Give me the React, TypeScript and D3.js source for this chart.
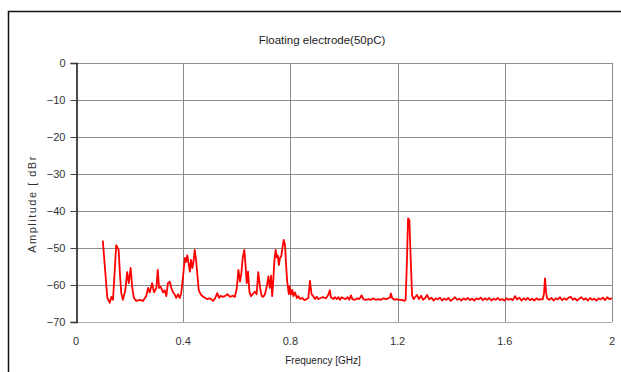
import React, { useEffect, useRef } from 'react';
import * as d3 from 'd3';

// [frequency GHz, amplitude dBr]
const lowBand: [number, number][] = [
  [0.100, -48.0], [0.117, -63.5], [0.126, -64.8], [0.132, -63.2], [0.138, -64.0],
  [0.143, -58.0], [0.150, -49.2], [0.159, -50.5], [0.164, -57.0], [0.169, -62.2],
  [0.175, -64.0], [0.184, -61.4], [0.191, -56.5], [0.197, -59.5], [0.204, -55.4],
  [0.210, -60.8], [0.216, -63.5], [0.225, -64.3], [0.238, -64.0], [0.250, -64.3],
  [0.262, -63.0], [0.269, -60.8], [0.275, -62.0], [0.284, -59.5], [0.291, -62.0],
  [0.300, -60.8], [0.305, -55.9], [0.310, -60.8], [0.316, -60.5], [0.325, -62.0],
  [0.331, -61.4], [0.337, -63.0], [0.343, -59.5], [0.350, -59.1], [0.356, -60.8],
  [0.362, -62.0], [0.368, -62.5], [0.374, -63.5], [0.381, -62.5], [0.387, -63.5],
  [0.393, -62.0], [0.399, -58.0], [0.406, -52.7], [0.410, -53.8], [0.415, -52.0],
  [0.421, -54.6], [0.425, -56.4], [0.429, -53.2], [0.434, -55.4], [0.438, -54.0],
  [0.443, -50.5], [0.448, -53.2], [0.453, -57.3], [0.458, -61.4],
];

const midBand: [number, number][] = [
  [0.465, -62.5], [0.475, -63.2], [0.488, -63.8], [0.500, -63.6], [0.512, -64.3],
  [0.519, -63.6], [0.527, -62.2], [0.534, -63.5], [0.540, -62.9], [0.547, -63.2],
  [0.556, -63.0], [0.565, -62.5], [0.575, -63.2], [0.585, -62.9], [0.593, -63.2],
  [0.600, -60.8], [0.606, -55.9], [0.612, -59.1], [0.617, -56.8], [0.622, -52.7],
  [0.628, -50.5], [0.633, -55.0], [0.637, -59.5], [0.642, -56.4], [0.647, -61.8],
  [0.653, -63.0], [0.659, -62.5], [0.668, -61.8], [0.674, -62.5], [0.680, -56.5],
  [0.687, -60.8], [0.693, -63.0], [0.699, -63.2], [0.705, -62.5], [0.712, -60.3],
  [0.718, -57.7], [0.723, -60.8], [0.728, -57.5], [0.732, -63.0], [0.736, -59.0],
  [0.740, -53.7], [0.745, -50.5], [0.749, -52.5], [0.753, -52.0], [0.757, -54.6],
  [0.761, -52.7], [0.766, -52.2], [0.770, -50.1], [0.775, -47.8], [0.780, -49.2],
  [0.784, -54.6], [0.788, -59.0], [0.794, -62.5], [0.797, -60.3], [0.802, -62.5],
  [0.807, -61.3], [0.811, -63.0], [0.817, -62.0], [0.824, -63.5], [0.829, -63.0],
  [0.836, -63.8], [0.844, -63.5], [0.852, -64.1], [0.861, -63.8], [0.867, -63.5],
  [0.873, -58.9], [0.879, -62.5], [0.885, -63.0], [0.892, -63.8], [0.898, -63.2],
];

const highBand: [number, number][] = [
  [0.904, -63.8], [0.913, -63.5], [0.923, -63.3], [0.933, -63.6], [0.941, -62.7],
  [0.947, -61.4], [0.951, -63.3], [0.960, -63.8], [0.966, -63.3], [0.973, -63.8],
  [0.979, -63.3], [0.985, -64.0], [0.991, -63.3], [0.999, -63.6], [1.006, -63.8],
  [1.014, -63.3], [1.020, -64.0], [1.026, -62.8], [1.031, -63.8], [1.041, -64.0],
  [1.050, -63.6], [1.057, -63.8], [1.066, -62.8], [1.072, -63.8], [1.081, -64.0],
  [1.091, -63.8], [1.101, -64.0], [1.109, -63.6], [1.118, -64.0], [1.128, -63.8],
  [1.138, -64.0], [1.147, -63.6], [1.156, -63.8], [1.165, -63.6], [1.172, -63.3],
  [1.175, -62.3], [1.180, -63.6], [1.188, -64.0], [1.197, -63.8], [1.205, -64.0],
  [1.215, -64.0], [1.225, -64.3], [1.230, -64.0], [1.235, -53.2], [1.239, -42.0],
  [1.244, -42.5], [1.249, -53.2], [1.254, -62.8], [1.260, -63.8], [1.265, -63.3],
];

const topBand: [number, number][] = [
  [1.272, -62.7], [1.280, -63.8], [1.288, -62.9], [1.295, -64.0], [1.302, -63.6],
  [1.310, -62.7], [1.318, -63.9], [1.326, -63.4], [1.334, -64.2], [1.342, -63.6],
  [1.350, -63.9], [1.358, -63.4], [1.366, -64.2], [1.374, -63.7], [1.382, -64.0],
  [1.390, -63.5], [1.398, -64.3], [1.406, -63.8], [1.414, -63.3], [1.422, -64.0],
  [1.430, -63.7], [1.438, -64.2], [1.446, -63.6], [1.454, -64.0], [1.462, -63.5],
  [1.470, -64.1], [1.478, -63.7], [1.486, -64.2], [1.494, -63.6], [1.502, -63.9],
  [1.510, -63.4], [1.518, -64.1], [1.526, -63.6], [1.534, -64.0], [1.542, -63.5],
  [1.550, -64.2], [1.558, -63.7], [1.566, -64.0], [1.574, -63.5], [1.582, -64.1],
  [1.590, -63.8], [1.598, -64.2], [1.606, -63.6], [1.614, -64.0], [1.622, -63.7],
  [1.630, -64.1], [1.638, -63.0], [1.646, -63.9], [1.654, -63.4], [1.662, -64.2],
  [1.670, -63.6], [1.678, -64.0], [1.686, -63.5], [1.694, -64.1], [1.702, -63.7],
  [1.710, -64.2], [1.718, -63.6], [1.726, -64.0], [1.734, -63.8], [1.741, -63.9],
  [1.746, -62.5], [1.750, -58.2], [1.754, -62.0], [1.758, -63.6], [1.766, -64.0],
  [1.774, -63.5], [1.782, -64.2], [1.790, -63.6], [1.798, -63.9], [1.806, -63.3],
  [1.814, -64.1], [1.822, -63.6], [1.830, -64.0], [1.838, -63.4], [1.846, -63.2],
  [1.854, -64.0], [1.862, -63.6], [1.870, -64.2], [1.878, -63.7], [1.886, -63.3],
  [1.894, -64.0], [1.902, -63.6], [1.910, -64.2], [1.918, -63.5], [1.926, -64.0],
  [1.934, -63.7], [1.942, -64.2], [1.950, -63.6], [1.958, -63.9], [1.966, -63.4],
  [1.974, -64.1], [1.982, -63.3], [1.990, -63.8], [2.000, -63.6],
];

const xTicks = [0, 0.4, 0.8, 1.2, 1.6, 2];
const yTicks = [0, -10, -20, -30, -40, -50, -60, -70];

const App = () => {
  const svgRef = useRef<SVGSVGElement>(null);

  useEffect(() => {
    const svg = d3.select(svgRef.current);
    svg.selectAll('*').remove();

    const width = 621;
    const height = 372;
    const margin = { top: 63, right: 9, bottom: 50, left: 76 };
    const font = '"Liberation Sans", Arial, sans-serif';

    const data = [...lowBand, ...midBand, ...highBand, ...topBand];

    const x = d3.scaleLinear().domain([0, 2]).range([margin.left, width - margin.right]);
    const y = d3.scaleLinear().domain([-70, 0]).range([height - margin.bottom, margin.top]);

    // outer frame
    svg.append('rect')
      .attr('x', 8.5).attr('y', 11.5)
      .attr('width', 630).attr('height', 380)
      .attr('fill', 'white')
      .attr('stroke', '#111').attr('stroke-width', 1.5);

    // grid
    svg.append('g')
      .selectAll('line')
      .data(yTicks)
      .enter()
      .append('line')
      .attr('x1', margin.left).attr('x2', width - margin.right)
      .attr('y1', d => Math.round(y(d)) + 0.5).attr('y2', d => Math.round(y(d)) + 0.5)
      .attr('stroke', d => d === -70 ? '#aaa' : '#8c8c8c')
      .attr('stroke-width', 1);

    svg.append('g')
      .selectAll('line')
      .data(xTicks.slice(1))
      .enter()
      .append('line')
      .attr('x1', d => Math.round(x(d)) + 0.5).attr('x2', d => Math.round(x(d)) + 0.5)
      .attr('y1', margin.top).attr('y2', height - margin.bottom)
      .attr('stroke', '#8c8c8c')
      .attr('stroke-width', 1);

    // left axis
    const yAxis = svg.append('g')
      .attr('transform', `translate(${margin.left + 0.5},0)`)
      .call(d3.axisLeft(y).tickValues(yTicks).tickSize(6).tickPadding(5).tickFormat(d => d3.format('d')(d as number).replace('-', '\u2212')));
    yAxis.select('.domain').attr('stroke', '#111').attr('stroke-width', 1.5);
    yAxis.selectAll('.tick line').attr('stroke', '#444');
    yAxis.selectAll('text')
      .attr('font-family', font).attr('font-size', 11).attr('fill', '#333');

    // x tick labels
    svg.append('g')
      .selectAll('text')
      .data(xTicks)
      .enter()
      .append('text')
      .attr('x', d => x(d))
      .attr('y', 345)
      .attr('text-anchor', 'middle')
      .attr('font-family', font).attr('font-size', 11).attr('fill', '#333')
      .text(d => d3.format('')(d));

    // series
    const line = d3.line<[number, number]>()
      .x(d => x(d[0]))
      .y(d => y(d[1]));

    svg.append('path')
      .datum(data)
      .attr('d', line)
      .attr('fill', 'none')
      .attr('stroke', '#ff0000')
      .attr('stroke-width', 1.8)
      .attr('stroke-linejoin', 'round');

    // titles
    svg.append('text')
      .attr('x', 322).attr('y', 44)
      .attr('text-anchor', 'middle')
      .attr('font-family', font).attr('font-size', 11.5).attr('fill', '#222')
      .text('Floating electrode(50pC)');

    svg.append('text')
      .attr('x', 323).attr('y', 364)
      .attr('text-anchor', 'middle')
      .attr('font-family', font).attr('font-size', 10).attr('fill', '#222')
      .text('Frequency [GHz]');

    svg.append('text')
      .attr('transform', 'translate(36,204) rotate(-90)')
      .attr('text-anchor', 'middle')
      .attr('font-family', font).attr('font-size', 11).attr('fill', '#333')
      .attr('letter-spacing', 1.5)
      .text('Amplitude [ dBr');
  }, []);

  return (
    <svg
      ref={svgRef}
      width={621}
      height={372}
      style={{ position: 'absolute', left: 0, top: 0, background: 'white' }}
    />
  );
};

export default App;
